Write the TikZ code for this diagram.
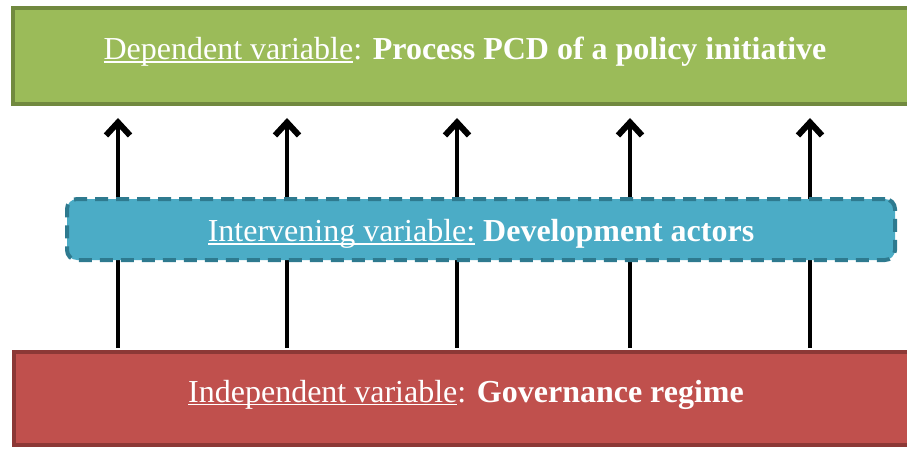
\documentclass[tikz,border=0pt]{standalone}
\usepackage{fontspec}
\setmainfont{Liberation Serif}
\usepackage{xcolor}
\usetikzlibrary{arrows.meta}

\definecolor{depfill}{HTML}{9BBB59}
\definecolor{depline}{HTML}{71893F}
\definecolor{intfill}{HTML}{4BACC6}
\definecolor{intline}{HTML}{2E7A8F}
\definecolor{indfill}{HTML}{C0504D}
\definecolor{indline}{HTML}{8C3836}

% underline that sits just under the baseline
\newcommand{\varul}[1]{\leavevmode\setbox0\hbox{#1}\rlap{\rule[-3.4pt]{\wd0}{1.6pt}}\box0\relax}

\tikzset{
    varbox/.style={rectangle, line width=4pt, text=white, inner sep=0pt,
        font=\fontsize{32}{38}\selectfont, text height=20pt, text depth=13pt},
    upar/.style={line width=4.5pt, -{Straight Barb[length=13pt, width=24pt, line width=6pt]}}
}

\begin{document}
\begin{tikzpicture}[x=1pt, y=1pt]
                \useasboundingbox (0,0) rectangle (907,448);
                \clip (0,0) rectangle (907,448);
                % Boxes
                \node[varbox, draw=depline, fill=depfill, minimum width=904pt, minimum height=96pt] (dep) at (465, 392) {\varul{Dependent variable}: \textbf{Process PCD of a policy initiative}}; % Dependent
                \node[varbox, draw=indline, fill=indfill, minimum width=904pt, minimum height=93pt] (ind) at (466, 49.5) {\varul{Independent variable}: \textbf{Governance regime}}; % Independent
                % Edges
                \foreach \x in {118, 287, 457, 630, 810}
                    \draw[upar, shorten <=2pt, shorten >=12pt] (\x,0 |- ind.north) -- (\x,0 |- dep.south);
                % Intervening box on top of the arrows
                \node[varbox, draw=intline, fill=intfill, rounded corners=10pt, line width=4pt,
                      dash pattern=on 13pt off 8pt, minimum width=828pt, minimum height=61pt,
                      text height=30pt, text depth=6pt] (int) at (481, 218.5) {\varul{Intervening variable:} \textbf{Development actors}};
            \end{tikzpicture}
\end{document}
